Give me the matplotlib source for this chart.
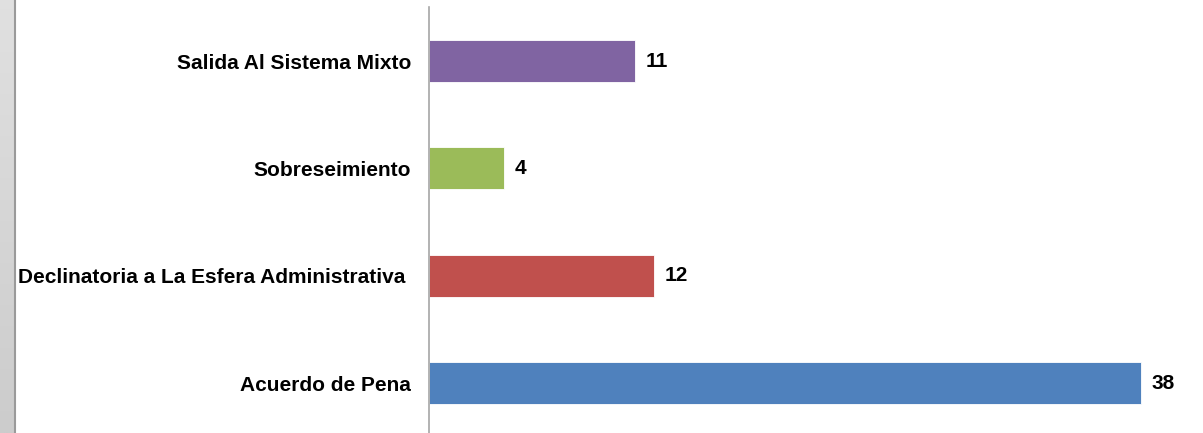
import matplotlib
matplotlib.use("Agg")
import matplotlib.pyplot as plt
import numpy as np

categories = ["Acuerdo de Pena", "Declinatoria a La Esfera Administrativa ", "Sobreseimiento", "Salida Al Sistema Mixto"]
values = [38, 12, 4, 11]
colors = ["#4F81BD", "#C0504D", "#9BBB59", "#8064A2"]

plt.rcParams['font.family'] = ['Liberation Sans', 'DejaVu Sans']

W, H = 1203, 433
fig = plt.figure(figsize=(W/100, H/100), dpi=100)
fig.patch.set_facecolor("white")

# left gray strip
sax = fig.add_axes([0, 0, 14/W, 1])
grad = np.linspace(0.88, 0.80, 256).reshape(-1, 1)
sax.imshow(np.dstack([grad, grad, grad]), aspect='auto', extent=[0, 1, 0, 1])
sax.set_axis_off()
fig.add_artist(plt.Line2D([14.5/W, 14.5/W], [0, 1], color="#9a9a9a", lw=1.5, transform=fig.transFigure))

left = 429/W
scale = (1141-429)/38.0
xmax = (W-429)/scale
bottom = (H-436.7)/H
top = (H-7.4)/H
ax = fig.add_axes([left, bottom, 1-left, top-bottom])
y = np.arange(len(categories))
ax.barh(y, values, height=0.39, color=colors, edgecolor="white", linewidth=0.6)
ax.set_ylim(-0.5, len(categories)-0.5)
ax.set_xlim(0, xmax)
ax.set_yticks(y)
ax.set_yticklabels(categories, fontsize=15, fontweight='bold')
ax.tick_params(axis='y', length=0, pad=13)
ax.set_xticks([])
for s in ["top", "right", "bottom"]:
    ax.spines[s].set_visible(False)
ax.spines["left"].set_color("#a6a6a6")
ax.spines["left"].set_linewidth(1.2)
for yi, v in zip(y, values):
    ax.text(v + 11/scale, yi, str(v), va='center', ha='left', fontsize=15, fontweight='bold')

fig.savefig("out.png", dpi=100)
